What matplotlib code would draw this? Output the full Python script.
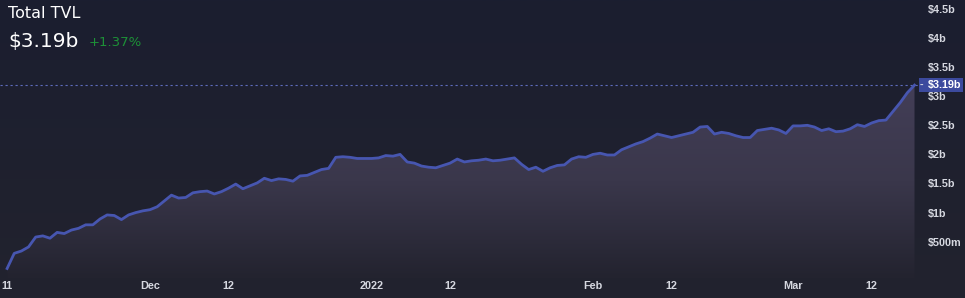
import matplotlib
matplotlib.use("Agg")
import matplotlib.pyplot as plt
import matplotlib.dates as mdates
import matplotlib.patches as mpatches
import numpy as np
from matplotlib.colors import LinearSegmentedColormap
import datetime as dt

# ---------------- data (TVL, billions USD) ----------------
dates = [
    "2021-11-11", "2021-11-12", "2021-11-13", "2021-11-14", "2021-11-15", "2021-11-16",
    "2021-11-17", "2021-11-18", "2021-11-19", "2021-11-20", "2021-11-21", "2021-11-22",
    "2021-11-23", "2021-11-24", "2021-11-25", "2021-11-26", "2021-11-27", "2021-11-28",
    "2021-11-29", "2021-11-30", "2021-12-01", "2021-12-02", "2021-12-03", "2021-12-04",
    "2021-12-05", "2021-12-06", "2021-12-07", "2021-12-08", "2021-12-09", "2021-12-10",
    "2021-12-11", "2021-12-12", "2021-12-13", "2021-12-14", "2021-12-15", "2021-12-16",
    "2021-12-17", "2021-12-18", "2021-12-19", "2021-12-20", "2021-12-21", "2021-12-22",
    "2021-12-23", "2021-12-24", "2021-12-25", "2021-12-26", "2021-12-27", "2021-12-28",
    "2021-12-29", "2021-12-30", "2021-12-31", "2022-01-01", "2022-01-02", "2022-01-03",
    "2022-01-04", "2022-01-05", "2022-01-06", "2022-01-07", "2022-01-08", "2022-01-09",
    "2022-01-10", "2022-01-11", "2022-01-12", "2022-01-13", "2022-01-14", "2022-01-15",
    "2022-01-16", "2022-01-17", "2022-01-18", "2022-01-19", "2022-01-20", "2022-01-21",
    "2022-01-22", "2022-01-23", "2022-01-24", "2022-01-25", "2022-01-26", "2022-01-27",
    "2022-01-28", "2022-01-29", "2022-01-30", "2022-01-31", "2022-02-01", "2022-02-02",
    "2022-02-03", "2022-02-04", "2022-02-05", "2022-02-06", "2022-02-07", "2022-02-08",
    "2022-02-09", "2022-02-10", "2022-02-11", "2022-02-12", "2022-02-13", "2022-02-14",
    "2022-02-15", "2022-02-16", "2022-02-17", "2022-02-18", "2022-02-19", "2022-02-20",
    "2022-02-21", "2022-02-22", "2022-02-23", "2022-02-24", "2022-02-25", "2022-02-26",
    "2022-02-27", "2022-02-28", "2022-03-01", "2022-03-02", "2022-03-03", "2022-03-04",
    "2022-03-05", "2022-03-06", "2022-03-07", "2022-03-08", "2022-03-09", "2022-03-10",
    "2022-03-11", "2022-03-12", "2022-03-13", "2022-03-14", "2022-03-15", "2022-03-16",
    "2022-03-17", "2022-03-18",
]
tvl = [
    0.04, 0.30, 0.34, 0.41, 0.58, 0.60,
    0.56, 0.66, 0.64, 0.70, 0.73, 0.79,
    0.79, 0.89, 0.96, 0.95, 0.88, 0.96,
    1.00, 1.03, 1.05, 1.10, 1.20, 1.30,
    1.25, 1.26, 1.34, 1.36, 1.37, 1.32,
    1.36, 1.42, 1.49, 1.41, 1.46, 1.51,
    1.59, 1.55, 1.58, 1.57, 1.54, 1.63,
    1.64, 1.69, 1.74, 1.76, 1.95, 1.96,
    1.95, 1.93, 1.93, 1.93, 1.94, 1.98,
    1.97, 2.00, 1.87, 1.85, 1.80, 1.78,
    1.77, 1.81, 1.85, 1.92, 1.87, 1.89,
    1.90, 1.92, 1.89, 1.90, 1.92, 1.94,
    1.83, 1.74, 1.78, 1.71, 1.77, 1.81,
    1.82, 1.92, 1.96, 1.95, 2.00, 2.02,
    1.99, 1.99, 2.08, 2.13, 2.18, 2.22,
    2.28, 2.35, 2.32, 2.29, 2.32, 2.35,
    2.38, 2.47, 2.48, 2.35, 2.38, 2.36,
    2.32, 2.29, 2.29, 2.41, 2.43, 2.45,
    2.42, 2.36, 2.49, 2.49, 2.50, 2.47,
    2.41, 2.44, 2.39, 2.40, 2.44, 2.51,
    2.48, 2.54, 2.58, 2.59, 2.74, 2.89,
    3.06, 3.19,
]
xtick_dates = ["2021-11-11", "2021-12-01", "2021-12-12", "2022-01-01", "2022-01-12",
               "2022-02-01", "2022-02-12", "2022-03-01", "2022-03-12"]
xtick_labels = ["11", "Dec", "12", "2022", "12", "Feb", "12", "Mar", "12"]
ytick_values = [0.5, 1.0, 1.5, 2.0, 2.5, 3.0, 3.5, 4.0, 4.5]
ytick_labels = ["$500m", "$1b", "$1.5b", "$2b", "$2.5b", "$3b", "$3.5b", "$4b", "$4.5b"]
title = "Total TVL"
current_label = "$3.19b"
change_label = "+1.37%"

# ---------------- figure ----------------
W, H = 965, 298
BG = "#1c1f2f"
TICKFONT = "Liberation Sans"
TICKSIZE = 7.8
fig = plt.figure(figsize=(W / 100, H / 100), dpi=100, facecolor=BG)

# subtle background gradient over the whole figure
bgax = fig.add_axes([0, 0, 1, 1], zorder=-10)
bgcmap = LinearSegmentedColormap.from_list("bg", ["#1b1e30", "#22232e"])
bgax.imshow(np.linspace(0, 1, 256).reshape(-1, 1), aspect="auto", cmap=bgcmap,
            extent=[0, 1, 0, 1], origin="upper")
bgax.axis("off")

ax = fig.add_axes([0, 20 / H, 918 / W, 278 / H])
ax.set_facecolor("none")

x = mdates.date2num([dt.datetime.strptime(d, "%Y-%m-%d") for d in dates])
y = np.array(tvl)

dec1 = mdates.date2num(dt.datetime(2021, 12, 1))
px_per_day = 7.145
xmin = dec1 - 150 / px_per_day
xmax = dec1 + 768 / px_per_day
px_per_b = 58.2
ymin = -7.2 / px_per_b
ymax = ymin + 278 / px_per_b
ax.set_xlim(xmin, xmax)
ax.set_ylim(ymin, ymax)

# gradient area fill
poly = ax.fill_between(x, y, ymin, color="none", lw=0)
cmap = LinearSegmentedColormap.from_list("fill", ["#23232f", "#3a374b", "#433e57"])
grad = np.linspace(0, 1, 256).reshape(-1, 1)
im = ax.imshow(grad, aspect="auto", cmap=cmap, origin="lower",
               extent=[xmin, xmax, ymin, y.max()], zorder=1)
path = poly.get_paths()[0]
im.set_clip_path(path, transform=ax.transData)

ax.plot(x, y, color="#4756b0", lw=2.0, zorder=3, solid_joinstyle="round")

# last value dashed line
last = y[-1]
ax.axhline(last, color="#5d6bbd", lw=0.8, ls=(0, (2, 2.5)), zorder=2)

# ticks
ax.set_xticks(mdates.date2num([dt.datetime.strptime(d, "%Y-%m-%d") for d in xtick_dates]))
ax.set_xticklabels(xtick_labels)
ax.yaxis.tick_right()
ax.set_yticks(ytick_values)
ax.set_yticklabels(ytick_labels)
ax.tick_params(axis="both", length=0, colors="#d6d8e0", labelsize=TICKSIZE)
ax.tick_params(axis="x", pad=2.5)
ax.tick_params(axis="y", pad=7.2)
for lab in ax.get_xticklabels() + ax.get_yticklabels():
    lab.set_fontweight("bold")
    lab.set_fontfamily(TICKFONT)
for s in ax.spines.values():
    s.set_visible(False)

# current value tag on the right axis
tag_y = 1 - 85 / H
fig.patches.append(mpatches.Rectangle((919 / W, 1 - 92 / H), 44 / W, 14 / H,
                                      transform=fig.transFigure, fc="#3c4a9e",
                                      ec="none", zorder=5))
fig.text(919.5 / W, tag_y, "-", color="#d6d8e0", fontsize=TICKSIZE, va="center",
         ha="left", zorder=6, family=TICKFONT, fontweight="bold")
fig.text(927.5 / W, tag_y, current_label, color="white", fontsize=TICKSIZE,
         fontweight="bold", va="center", ha="left", zorder=6, family=TICKFONT)

# header texts
fig.text(8 / W, 1 - 14 / H, title, color="white", fontsize=11.5, va="center", ha="left")
fig.text(8 / W, 1 - 41 / H, current_label, color="white", fontsize=14.5, va="center",
         ha="left")
fig.text(89 / W, 1 - 42 / H, change_label, color="#1d9137", fontsize=9.5, va="center", ha="left")

fig.savefig("out.png", dpi=100, facecolor=BG)
